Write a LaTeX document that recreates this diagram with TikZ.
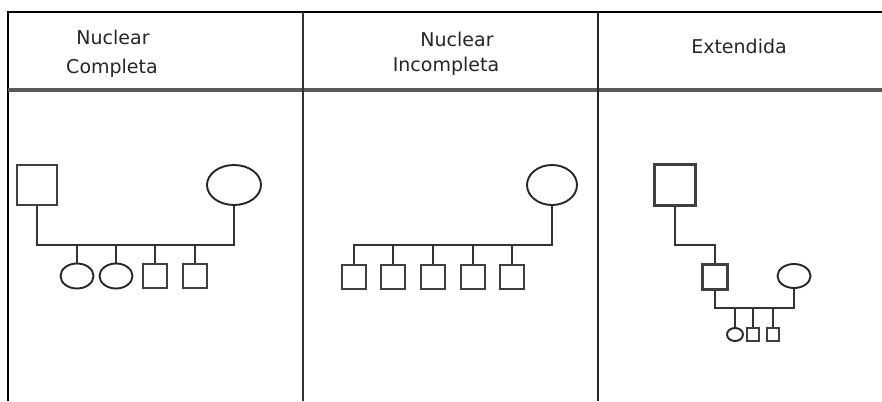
\documentclass[tikz,border=0pt]{standalone}
\usepackage{fontspec}
\setmainfont{DejaVu Sans}
\usetikzlibrary{shapes.geometric}
\begin{document}
\begin{tikzpicture}[x=1pt,y=-1pt,
  ln/.style={line width=2pt,draw=black!80},
  sqr/.style={rectangle,draw=black!75,line width=2.4pt,inner sep=0pt,minimum width=#1,minimum height=#1},
  ell/.style 2 args={ellipse,draw=black!85,line width=1.9pt,inner sep=0pt,minimum width=#1,minimum height=#2},
  hdr/.style={inner sep=0pt,anchor=base,font=\fontsize{19}{23}\selectfont,text=black!85}]
\useasboundingbox (0,0) rectangle (882,401);
% table
\draw[line width=2.6pt,black] (8,401) -- (8,12) -- (882,12);
\draw[line width=4.5pt,black!65] (8,90) -- (882,90);
\draw[line width=2.4pt,black!80] (303,12) -- (303,401);
\draw[line width=2.4pt,black!85] (598,12) -- (598,401);
% headers
\node[hdr] (h1a) at (113,45) {Nuclear};
\node[hdr] (h1b) at (112,74) {Completa};
\node[hdr] (h2a) at (457,47) {Nuclear};
\node[hdr] (h2b) at (446,72) {Incompleta};
\node[hdr] (h3) at (739,54) {Extendida};
% column 1
\node[sqr=40pt] (f1) at (37,185) {};
\node[ell={54pt}{40pt}] (m1) at (234,185) {};
\coordinate (j1) at (234,245);
\draw[ln] (f1.south) |- (j1) -- (m1.south);
\node[ell={33pt}{25pt}] (c11) at (77,276) {};
\node[ell={33pt}{25pt}] (c12) at (116,276) {};
\node[sqr=24pt] (c13) at (155,276) {};
\node[sqr=24pt] (c14) at (195,276) {};
\foreach \c in {c11,c12,c13,c14} \draw[ln] (\c.north) -- (\c.north |- j1);
% column 2
\node[ell={50pt}{40pt}] (m2) at (552,185) {};
\coordinate (j2) at (552,245);
\node[sqr=24pt] (c21) at (354,277) {};
\node[sqr=24pt] (c22) at (393,277) {};
\node[sqr=24pt] (c23) at (433,277) {};
\node[sqr=24pt] (c24) at (473,277) {};
\node[sqr=24pt] (c25) at (512,277) {};
\draw[ln] (m2.south) -- (j2) -- (c21.north |- j2) -- (c21.north);
\foreach \c in {c22,c23,c24,c25} \draw[ln] (\c.north) -- (\c.north |- j2);
% column 3
\node[sqr=41pt] (g3) at (675,185) {};
\node[sqr=25pt] (f3) at (715,277) {};
\node[ell={33pt}{24pt}] (m3) at (794,276) {};
\draw[ln] (g3.south) |- (715,245) -- (f3.north);
\coordinate (j3) at (794,308);
\draw[ln] (f3.south) |- (j3) -- (m3.south);
\node[ell={16pt}{13pt}] (c31) at (735,334.5) {};
\node[sqr=12.5pt] (c32) at (753,334.5) {};
\node[sqr=12.5pt] (c33) at (773,334.5) {};
\foreach \c in {c31,c32,c33} \draw[ln] (\c.north) -- (\c.north |- j3);
\end{tikzpicture}
\end{document}
